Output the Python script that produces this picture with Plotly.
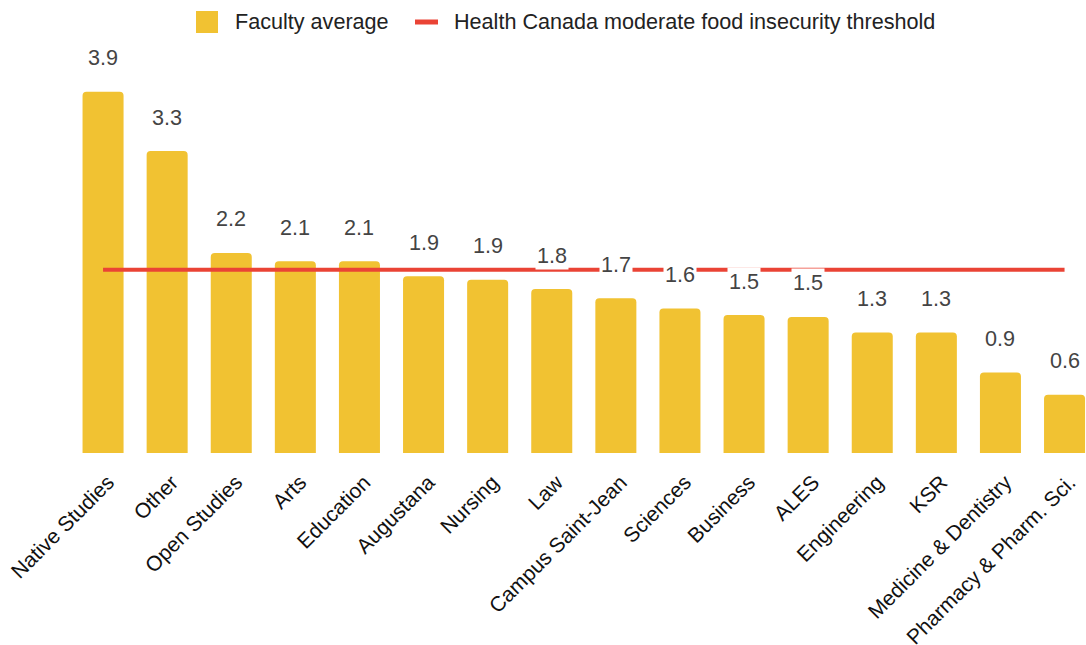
import plotly.graph_objects as go

faculties = ["Native Studies", "Other", "Open Studies", "Arts", "Education", "Augustana",
             "Nursing", "Law", "Campus Saint-Jean", "Sciences", "Business", "ALES",
             "Engineering", "KSR", "Medicine & Dentistry", "Pharmacy & Pharm. Sci."]
faculty_avg = [3.9, 3.26, 2.16, 2.07, 2.07, 1.91, 1.87, 1.77, 1.67, 1.56, 1.49, 1.47,
               1.3, 1.3, 0.87, 0.63]
threshold = 1.98
series_names = ["Faculty average", "Health Canada moderate food insecurity threshold"]

BAR = "#F1C232"
RED = "#EA4335"
FONT = "Liberation Sans, Arial, sans-serif"
FS = 21.6

W, H = 1086, 645
ML, MT, MB = 71, 80, 192
PW = W - ML
PH = H - MT - MB


def px_x(img_x):
    return (img_x - ML) / PW


def px_y(img_y):
    return (H - MB - img_y) / PH


fig = go.Figure()
fig.add_trace(go.Bar(x=faculties, y=faculty_avg, name=series_names[0],
                     marker=dict(color=BAR, cornerradius=4, line=dict(width=0))))
fig.add_trace(go.Scatter(x=faculties, y=[threshold] * len(faculties), mode="lines",
                         name=series_names[1], line=dict(color=RED, width=4)))

for f, v in zip(faculties, faculty_avg):
    fig.add_annotation(x=f, y=v, text=f"{v:.1f}", showarrow=False, yanchor="middle",
                       yshift=34, bgcolor="white", borderpad=1,
                       font=dict(family=FONT, size=FS, color="#444444"))

# legend drawn manually to match the large key symbols
ly = px_y(22)
fig.add_shape(type="rect", xref="paper", yref="paper",
              x0=px_x(196), x1=px_x(218), y0=px_y(33), y1=px_y(11),
              fillcolor=BAR, line=dict(width=0))
fig.add_annotation(xref="paper", yref="paper", x=px_x(233), y=ly, xanchor="left",
                   yanchor="middle", showarrow=False, text=series_names[0],
                   font=dict(family=FONT, size=FS, color="#222222"))
fig.add_shape(type="line", xref="paper", yref="paper",
              x0=px_x(415), x1=px_x(438), y0=ly, y1=ly,
              line=dict(color=RED, width=5))
fig.add_annotation(xref="paper", yref="paper", x=px_x(452), y=ly, xanchor="left",
                   yanchor="middle", showarrow=False, text=series_names[1],
                   font=dict(family=FONT, size=FS, color="#222222"))

fig.update_layout(
    width=W, height=H,
    margin=dict(l=ML, r=0, t=MT, b=MB, autoexpand=False),
    paper_bgcolor="white", plot_bgcolor="white",
    bargap=0.36,
    font=dict(family=FONT, size=FS, color="#222222"),
    showlegend=False,
    xaxis=dict(range=[-0.5, -0.5 + PW / 64.1], tickangle=-45, showgrid=False,
               showline=False, ticks="", ticklabelstandoff=12, ticklabelshift=5,
               automargin=False, tickfont=dict(size=21, color="#111111")),
    yaxis=dict(range=[0, PH / 92.6], visible=False, showgrid=False, automargin=False),
)

fig.write_html("out.html",
               config={"displayModeBar": False},
               post_script="document.body.style.margin='0';"
                           "document.body.style.overflow='hidden';")
